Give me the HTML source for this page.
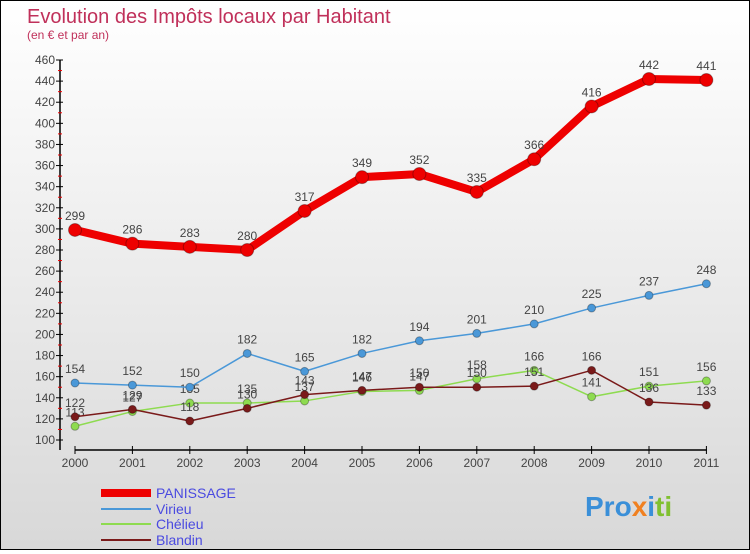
<!DOCTYPE html>
<html><head><meta charset="utf-8"><style>
body{margin:0}
#c{width:748px;height:548px;border:1px solid #000;background:linear-gradient(#fff,#d8d8d8);position:relative;font-family:"Liberation Sans",sans-serif}
</style></head><body>
<div id="c">
<svg width="748" height="548" id="s">
<text x="26" y="22" font-size="20" fill="#c0305a">Evolution des Impôts locaux par Habitant</text>
<text x="26" y="38" font-size="12" fill="#c0305a">(en € et par an)</text>
<g id="g"></g>
<text x="584" y="515" font-size="28" font-weight="bold" fill="#3a8fd8">Pro<tspan fill="#f08020">x</tspan><tspan fill="#3a8fd8">i</tspan><tspan fill="#80c030">ti</tspan></text>
</svg>
</div>
<script>
const years=["2000","2001","2002","2003","2004","2005","2006","2007","2008","2009","2010","2011"];
const panissage=[299,286,283,280,317,349,352,335,366,416,442,441];
const virieu=[154,152,150,182,165,182,194,201,210,225,237,248];
const chelieu=[113,127,135,135,137,146,147,158,166,141,151,156];
const blandin=[122,129,118,130,143,147,150,150,151,166,136,133];
const yTicks=[100,120,140,160,180,200,220,240,260,280,300,320,340,360,380,400,420,440,460];
const ns="http://www.w3.org/2000/svg",g=document.getElementById('g');
const X=i=>74+i*57.4, Y=v=>439-(v-100)*380/360;
function el(t,a,p){const e=document.createElementNS(ns,t);for(const k in a)e.setAttribute(k,a[k]);(p||g).appendChild(e);return e;}
let e;
e=el('line',{x1:59,y1:Y(460),x2:59,y2:449,stroke:'#000','stroke-width':1.5});


e=el('line',{x1:74,y1:449,x2:706,y2:449,stroke:'#000','stroke-width':1.5});


yTicks.forEach(v=>{
 el('line',{x1:55,y1:Y(v),x2:62,y2:Y(v),stroke:'#000'});
 if(v<460) el('line',{x1:57,y1:Y(v+10),x2:61,y2:Y(v+10),stroke:'#e00'});
 e=el('text',{x:54,y:Y(v)+4,'font-size':12,'text-anchor':'end',fill:'#444'});
 e.textContent=v;
 
 
});
years.forEach((y,i)=>{
 el('line',{x1:X(i),y1:445,x2:X(i),y2:453,stroke:'#000'});
 e=el('text',{x:X(i),y:466,'font-size':12,'text-anchor':'middle',fill:'#444'});
 e.textContent=y;
 
 
});
function series(d,col,w,r,name){
 e=el('polyline',{points:d.map((v,i)=>X(i)+','+Y(v)).join(' '),fill:'none',stroke:col,'stroke-width':w,'stroke-linejoin':'round'});
 
 
 d.forEach((v,i)=>{
  e=el('circle',{cx:X(i),cy:Y(v),r:r,fill:col,stroke:'rgba(0,0,0,0.3)'});
  
  
  e=el('text',{x:X(i),y:Y(v)-10,'font-size':12,'text-anchor':'middle',fill:'#444'});
  e.textContent=v;
  
  
 });
}
series(chelieu,'#8edb50',1.5,4,'chelieu');
series(blandin,'#7a1a1a',1.5,4,'blandin');
series(virieu,'#4a98d8',1.5,4,'virieu');
series(panissage,'#ee0000',8,6.5,'panissage');
[['PANISSAGE','#ee0000',8,492],['Virieu','#4a98d8',2,508],['Chélieu','#8edb50',2,523],['Blandin','#7a1a1a',2,539]].forEach(l=>{
 e=el('line',{x1:100,y1:l[3],x2:150,y2:l[3],stroke:l[1],'stroke-width':l[2]});
 
 
 e=el('text',{x:155,y:l[3]+5,'font-size':14,fill:'#4a4ae0'});
 e.textContent=l[0];
 
 
});
</script>
</body></html>
